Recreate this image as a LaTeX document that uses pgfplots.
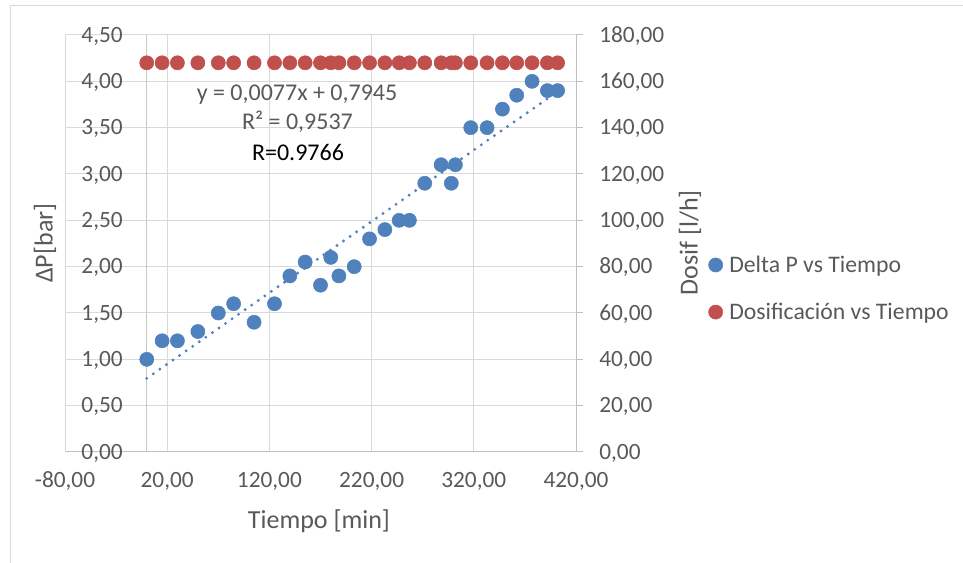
\documentclass[border=0pt]{standalone}
\usepackage{fontspec}
\setmainfont{Carlito}
\usepackage{pgfplots}
\usepackage{pgfplotstable}
\pgfplotsset{compat=1.18}
\definecolor{exblue}{HTML}{4F81BD}
\definecolor{exred}{HTML}{C0504D}
\definecolor{gridc}{HTML}{D9D9D9}
\definecolor{axc}{HTML}{BFBFBF}
\definecolor{txt}{HTML}{595959}

\pgfplotstableread{
x y
0 1.0
15 1.2
30 1.2
50 1.3
70 1.5
85 1.6
105 1.4
125 1.6
140 1.9
155 2.05
170 1.8
180 2.1
188 1.9
203 2.0
218 2.3
233 2.4
247 2.5
257 2.5
272 2.9
288 3.1
298 2.9
302 3.1
317 3.5
333 3.5
348 3.7
362 3.85
377 4.0
392 3.9
402 3.9
}\deltap

\pgfplotstableread{
x y
0 168
15 168
30 168
50 168
70 168
85 168
105 168
125 168
140 168
155 168
170 168
180 168
188 168
203 168
218 168
233 168
247 168
257 168
272 168
288 168
298 168
302 168
317 168
333 168
348 168
362 168
377 168
392 168
402 168
}\dosif

\pgfplotsset{
  numfmt/.style={
    /pgf/number format/fixed,
    /pgf/number format/fixed zerofill,
    /pgf/number format/precision=2,
    /pgf/number format/use comma,
    /pgf/number format/1000 sep={},
    /pgf/number format/assume math mode=true,
  }
}

\begin{document}
\begin{tikzpicture}[font=\fontsize{17.5}{21}\selectfont]
\useasboundingbox (-48.75pt,-83.25pt) rectangle (673.5pt,339pt);
\draw[gridc, line width=0.75pt] (-40.5pt,-84pt) -- (-40.5pt,334.5pt) -- (674pt,334.5pt);

\begin{axis}[
  scale only axis, width=383.25pt, height=312.75pt,
  xmin=-80, xmax=420, ymin=0, ymax=4.5,
  xtick={-80,20,120,220,320,420},
  ytick={0,0.5,1,1.5,2,2.5,3,3.5,4,4.5},
  numfmt,
  axis x line*=bottom, axis y line*=left,
  x axis line style={-, draw=axc, line width=0.75pt},
  y axis line style={-, draw=gridc, line width=0.75pt},
  grid=major, major grid style={gridc, line width=0.75pt},
  major tick length=0pt,
  tick label style={text=txt, inner sep=0pt},
  yticklabel style={anchor=base east, xshift=43.5pt, yshift=-5.5pt},
  xticklabel style={anchor=base, yshift=-27pt},
  clip=false,
]
\draw[axc!70!gridc, line width=0.75pt] (axis cs:0,0) -- (axis cs:0,4.5);
\addplot[only marks, mark=*, mark size=5.3pt, exblue] table {\deltap};
\addplot[exblue, line width=2.4pt, line cap=round, dash pattern=on 0pt off 6pt] coordinates {(0,0.7945) (402,3.8899)};
\node[anchor=base, text=txt, font=\fontsize{18}{21}\selectfont] at (axis description cs:0.454,0.844) {y = 0,0077x + 0,7945};
\node[anchor=base, text=txt, font=\fontsize{18}{21}\selectfont] at (axis description cs:0.455,0.774) {R² = 0,9537};
\node[anchor=base, text=black, font=\fontsize{18}{21}\selectfont] at (axis description cs:0.456,0.700) {R=0.9766};
\node[anchor=center, rotate=90, text=txt, font=\fontsize{19.5}{23}\selectfont] at (axis description cs:-0.0391,0.501) {ΔP[bar]};
\node[anchor=base, text=txt, font=\fontsize{19.5}{23}\selectfont] at (axis description cs:0.497,-0.1823) {Tiempo [min]};
\node[anchor=center, rotate=90, text=txt, font=\fontsize{19.5}{23}\selectfont] at (axis description cs:1.223,0.502) {Dosif [l/h]};
\end{axis}

\begin{axis}[
  scale only axis, width=383.25pt, height=312.75pt,
  xmin=-80, xmax=420, ymin=0, ymax=180,
  axis x line=none, axis y line*=right,
  y axis line style={-, draw=axc, line width=0.75pt},
  ytick={0,20,40,60,80,100,120,140,160,180},
  numfmt,
  tick align=outside, major tick length=5.25pt,
  ytick style={axc, line width=0.75pt},
  yticklabel style={anchor=base west, xshift=12pt, yshift=-5.5pt, text=txt, inner sep=0pt},
  legend style={draw=none, fill=none, at={(1.259,0.392)}, anchor=west,
    text=txt, row sep=17.5pt, inner sep=0pt, nodes={inner sep=2pt},
    font=\fontsize{17.8}{21}\selectfont},
  legend cell align=left,
  legend image code/.code={\draw[#1] plot coordinates {(0pt,0pt)}; \path (8pt,0pt);},
  clip=false,
]
\addlegendimage{only marks, mark=*, mark size=5.3pt, exblue}
\addlegendentry{Delta P vs Tiempo}
\addplot[only marks, mark=*, mark size=5.3pt, exred] table {\dosif};
\addlegendentry{Dosificación vs Tiempo}
\end{axis}
\end{tikzpicture}
\end{document}
